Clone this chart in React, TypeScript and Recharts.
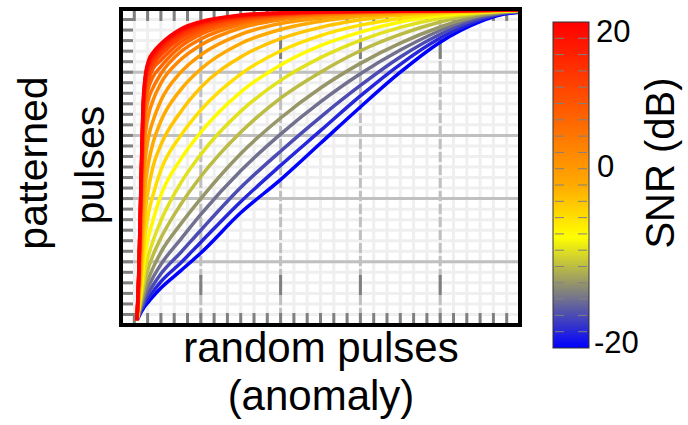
import { LineChart, Line, XAxis, YAxis, CartesianGrid, ReferenceArea, ReferenceLine } from 'recharts'

// SNR of each curve (dB)
const SNR_DB = [-20, -18, -16, -14, -12, -10, -8, -6, -4, -2, 0, 2, 4, 6, 8, 10, 12, 14, 16, 18, 20]

// x: random pulses (anomaly) rate
const RANDOM_RATE = [0.04, 0.045, 0.05, 0.055, 0.06, 0.07, 0.08, 0.1, 0.15, 0.2, 0.3, 0.4, 0.5, 0.6, 0.7, 0.8, 0.9, 0.95, 1.0]

// y: patterned pulses rate, one list per SNR
const snrM20 = [0.015, 0.027, 0.04, 0.05, 0.06, 0.075, 0.09, 0.117, 0.172, 0.228, 0.355, 0.46, 0.575, 0.69, 0.8, 0.895, 0.96, 0.981, 0.99]
const snrM18 = [0.015, 0.03, 0.045, 0.057, 0.07, 0.088, 0.105, 0.137, 0.197, 0.262, 0.39, 0.505, 0.615, 0.725, 0.825, 0.908, 0.966, 0.984, 0.991]
const snrM16 = [0.015, 0.033, 0.051, 0.066, 0.082, 0.105, 0.125, 0.162, 0.23, 0.3, 0.435, 0.55, 0.658, 0.758, 0.848, 0.92, 0.971, 0.986, 0.992]
const snrM14 = [0.015, 0.036, 0.058, 0.077, 0.097, 0.125, 0.15, 0.192, 0.272, 0.35, 0.488, 0.604, 0.706, 0.795, 0.87, 0.932, 0.977, 0.987, 0.993]
const snrM12 = [0.015, 0.04, 0.067, 0.09, 0.115, 0.15, 0.18, 0.23, 0.32, 0.4, 0.542, 0.655, 0.75, 0.828, 0.892, 0.943, 0.98, 0.989, 0.994]
const snrM10 = [0.015, 0.045, 0.078, 0.108, 0.14, 0.185, 0.22, 0.275, 0.382, 0.47, 0.61, 0.718, 0.8, 0.868, 0.92, 0.959, 0.985, 0.991, 0.995]
const snrM8 = [0.015, 0.052, 0.092, 0.13, 0.175, 0.225, 0.265, 0.33, 0.45, 0.54, 0.676, 0.774, 0.846, 0.901, 0.942, 0.971, 0.988, 0.992, 0.995]
const snrM6 = [0.015, 0.06, 0.11, 0.165, 0.22, 0.285, 0.33, 0.41, 0.525, 0.61, 0.737, 0.823, 0.884, 0.927, 0.959, 0.979, 0.99, 0.993, 0.996]
const snrM4 = [0.015, 0.07, 0.135, 0.21, 0.28, 0.36, 0.41, 0.49, 0.6, 0.68, 0.794, 0.867, 0.916, 0.949, 0.971, 0.985, 0.992, 0.994, 0.996]
const snrM2 = [0.015, 0.082, 0.165, 0.265, 0.35, 0.44, 0.5, 0.57, 0.675, 0.752, 0.848, 0.906, 0.942, 0.966, 0.981, 0.989, 0.993, 0.995, 0.997]
const snr0 = [0.015, 0.095, 0.2, 0.33, 0.43, 0.52, 0.575, 0.645, 0.745, 0.81, 0.891, 0.935, 0.961, 0.977, 0.986, 0.991, 0.994, 0.996, 0.997]
const snr2 = [0.015, 0.11, 0.245, 0.4, 0.51, 0.6, 0.645, 0.71, 0.8, 0.855, 0.92, 0.954, 0.972, 0.983, 0.989, 0.992, 0.995, 0.996, 0.997]
const snr4 = [0.015, 0.125, 0.29, 0.47, 0.59, 0.67, 0.71, 0.765, 0.84, 0.886, 0.94, 0.966, 0.98, 0.987, 0.991, 0.993, 0.995, 0.996, 0.997]
const snr6 = [0.015, 0.14, 0.33, 0.53, 0.65, 0.72, 0.75, 0.795, 0.865, 0.905, 0.951, 0.972, 0.983, 0.989, 0.992, 0.994, 0.995, 0.996, 0.997]
const snr8 = [0.015, 0.152, 0.365, 0.575, 0.69, 0.755, 0.785, 0.818, 0.882, 0.92, 0.959, 0.977, 0.986, 0.99, 0.993, 0.994, 0.995, 0.996, 0.997]
const snr10 = [0.015, 0.162, 0.39, 0.61, 0.72, 0.78, 0.81, 0.838, 0.896, 0.931, 0.965, 0.98, 0.988, 0.991, 0.993, 0.994, 0.995, 0.996, 0.997]
const snr12 = [0.015, 0.17, 0.41, 0.635, 0.74, 0.8, 0.825, 0.855, 0.909, 0.94, 0.97, 0.982, 0.989, 0.991, 0.993, 0.994, 0.995, 0.996, 0.997]
const snr14 = [0.015, 0.176, 0.425, 0.655, 0.755, 0.815, 0.838, 0.868, 0.919, 0.948, 0.974, 0.984, 0.99, 0.992, 0.993, 0.994, 0.995, 0.996, 0.997]
const snr16 = [0.015, 0.18, 0.435, 0.67, 0.765, 0.826, 0.848, 0.878, 0.927, 0.953, 0.977, 0.986, 0.99, 0.992, 0.994, 0.995, 0.996, 0.996, 0.997]
const snr18 = [0.015, 0.184, 0.443, 0.68, 0.772, 0.834, 0.855, 0.885, 0.932, 0.957, 0.979, 0.987, 0.991, 0.993, 0.994, 0.995, 0.996, 0.997, 0.997]
const snr20 = [0.015, 0.187, 0.45, 0.69, 0.78, 0.84, 0.862, 0.89, 0.937, 0.96, 0.981, 0.988, 0.991, 0.993, 0.994, 0.995, 0.996, 0.997, 0.998]

const CURVES = [snrM20, snrM18, snrM16, snrM14, snrM12, snrM10, snrM8, snrM6, snrM4, snrM2, snr0,
  snr2, snr4, snr6, snr8, snr10, snr12, snr14, snr16, snr18, snr20]

const COLORBAR_LABELS = ['20', '0', '-20']
const MAJOR_TICKS = [0.2, 0.4, 0.6, 0.8]
const MINOR_TICKS = Array.from({ length: 29 }, (_, i) => (i + 1) / 30)
const COLORBAR_STEPS = Array.from({ length: 19 }, (_, i) => 18 - 2 * i)

// colormap: blue -> grey -> yellow -> orange -> red
const CMAP: [number, number[]][] = [
  [-20, [0, 0, 255]],
  [-13.2, [128, 128, 128]],
  [-6.4, [255, 255, 0]],
  [0, [255, 170, 0]],
  [20, [255, 0, 0]],
]

function snrColor(v: number) {
  for (let i = 1; i < CMAP.length; i++) {
    const [v0, c0] = CMAP[i - 1]
    const [v1, c1] = CMAP[i]
    if (v <= v1) {
      const t = (v - v0) / (v1 - v0)
      const c = c0.map((a, k) => Math.round(a + (c1[k] - a) * t))
      return `rgb(${c[0]},${c[1]},${c[2]})`
    }
  }
  return 'rgb(255,0,0)'
}

const rows = RANDOM_RATE.map((x, i) => {
  const row: Record<string, number> = { x }
  SNR_DB.forEach((s, k) => {
    row[`s${s}`] = CURVES[k][i]
  })
  return row
})

const FONT = '"Liberation Sans", Arial, Helvetica, sans-serif'
const tickLine = { stroke: '#808080', strokeWidth: 3 }
const noLabel = { fill: 'transparent', fontSize: 1 }

// colorbar geometry
const CB_X = 553
const CB_Y = 22
const CB_W = 36
const CB_H = 326
const cbY = (v: number) => CB_Y + ((20 - v) / 40) * CB_H

export default function App() {
  return (
    <div style={{ position: 'absolute', left: 0, top: 0, width: 688, height: 425, background: '#fff', fontFamily: FONT }}>
      <LineChart width={688} height={425} data={rows} margin={{ top: 9, right: 168, bottom: 100, left: 121 }}>
        <XAxis xAxisId="b" dataKey="x" type="number" domain={[0, 1]} orientation="bottom" mirror
          ticks={MINOR_TICKS} interval={0} tickSize={12} tick={noLabel} axisLine={false} tickLine={tickLine} />
        <XAxis xAxisId="t" dataKey="x" type="number" domain={[0, 1]} orientation="top" mirror
          ticks={MINOR_TICKS} interval={0} tickSize={12} tick={noLabel} axisLine={false} tickLine={tickLine} />
        <XAxis xAxisId="bM" dataKey="x" type="number" domain={[0, 1]} orientation="bottom" mirror
          ticks={MAJOR_TICKS} interval={0} tickSize={20} tick={noLabel} axisLine={false} tickLine={tickLine} />
        <XAxis xAxisId="tM" dataKey="x" type="number" domain={[0, 1]} orientation="top" mirror
          ticks={MAJOR_TICKS} interval={0} tickSize={20} tick={noLabel} axisLine={false} tickLine={tickLine} />
        <YAxis yAxisId="l" type="number" domain={[0, 1]} orientation="left" mirror
          ticks={MINOR_TICKS} interval={0} tickSize={12} tick={noLabel} axisLine={false} tickLine={tickLine} />
        <YAxis yAxisId="r" type="number" domain={[0, 1]} orientation="right" mirror
          ticks={MINOR_TICKS} interval={0} tickSize={12} tick={noLabel} axisLine={false} tickLine={tickLine} />
        <YAxis yAxisId="lM" type="number" domain={[0, 1]} orientation="left" mirror
          ticks={MAJOR_TICKS} interval={0} tickSize={20} tick={noLabel} axisLine={false} tickLine={tickLine} />
        <YAxis yAxisId="rM" type="number" domain={[0, 1]} orientation="right" mirror
          ticks={MAJOR_TICKS} interval={0} tickSize={20} tick={noLabel} axisLine={false} tickLine={tickLine} />

        <CartesianGrid xAxisId="b" yAxisId="l" stroke="#efefef" strokeWidth={3} />
        <CartesianGrid xAxisId="bM" yAxisId="lM" horizontal={false} stroke="#c0c0c0" strokeWidth={3} strokeDasharray="10 3" />
        {MAJOR_TICKS.map((v) => (
          <ReferenceLine key={v} xAxisId="b" yAxisId="l" y={v} stroke="#c0c0c0" strokeWidth={3} zIndex={-50} />
        ))}

        {SNR_DB.map((s) => (
          <Line
            key={s}
            xAxisId="b"
            yAxisId="l"
            dataKey={`s${s}`}
            type="monotone"
            stroke={snrColor(s)}
            strokeWidth={3.5}
            dot={false}
            isAnimationActive={false}
            zIndex={700}
          />
        ))}

        <ReferenceArea xAxisId="b" yAxisId="l" x1={0} x2={1} y1={0} y2={1} zIndex={900}
          fill="none" fillOpacity={0} stroke="#000" strokeWidth={4} strokeOpacity={1} />
      </LineChart>

      <svg width={688} height={425} style={{ position: 'absolute', left: 0, top: 0, pointerEvents: 'none' }}>
        <defs>
          <linearGradient id="cbar" x1="0" y1="0" x2="0" y2="1">
            {CMAP.slice().reverse().map(([v]) => (
              <stop key={v} offset={(20 - v) / 40} stopColor={snrColor(v)} />
            ))}
          </linearGradient>
        </defs>
        <rect x={CB_X} y={CB_Y} width={CB_W} height={CB_H} fill="url(#cbar)" stroke="#333" strokeWidth={1} />
        {COLORBAR_STEPS.map((v) => (
          <g key={v} stroke="#808080" strokeWidth={1}>
            <line x1={CB_X + 2} x2={CB_X + 11} y1={cbY(v)} y2={cbY(v)} />
            <line x1={CB_X + CB_W - 11} x2={CB_X + CB_W - 2} y1={cbY(v)} y2={cbY(v)} />
          </g>
        ))}
        <g fontFamily={FONT} fill="#000">
          <text x={596} y={42} fontSize={31}>{COLORBAR_LABELS[0]}</text>
          <text x={597} y={177} fontSize={31}>{COLORBAR_LABELS[1]}</text>
          <text x={594} y={353} fontSize={31}>{COLORBAR_LABELS[2]}</text>
          <text transform="translate(674,163) rotate(-90)" textAnchor="middle" fontSize={40}>SNR (dB)</text>
          <text x={321} y={362} textAnchor="middle" fontSize={42}>random pulses</text>
          <text x={321} y={410} textAnchor="middle" fontSize={42}>(anomaly)</text>
          <text transform="translate(47,163) rotate(-90)" textAnchor="middle" fontSize={41}>patterned</text>
          <text transform="translate(104,165) rotate(-90)" textAnchor="middle" fontSize={41}>pulses</text>
        </g>
      </svg>
    </div>
  )
}
